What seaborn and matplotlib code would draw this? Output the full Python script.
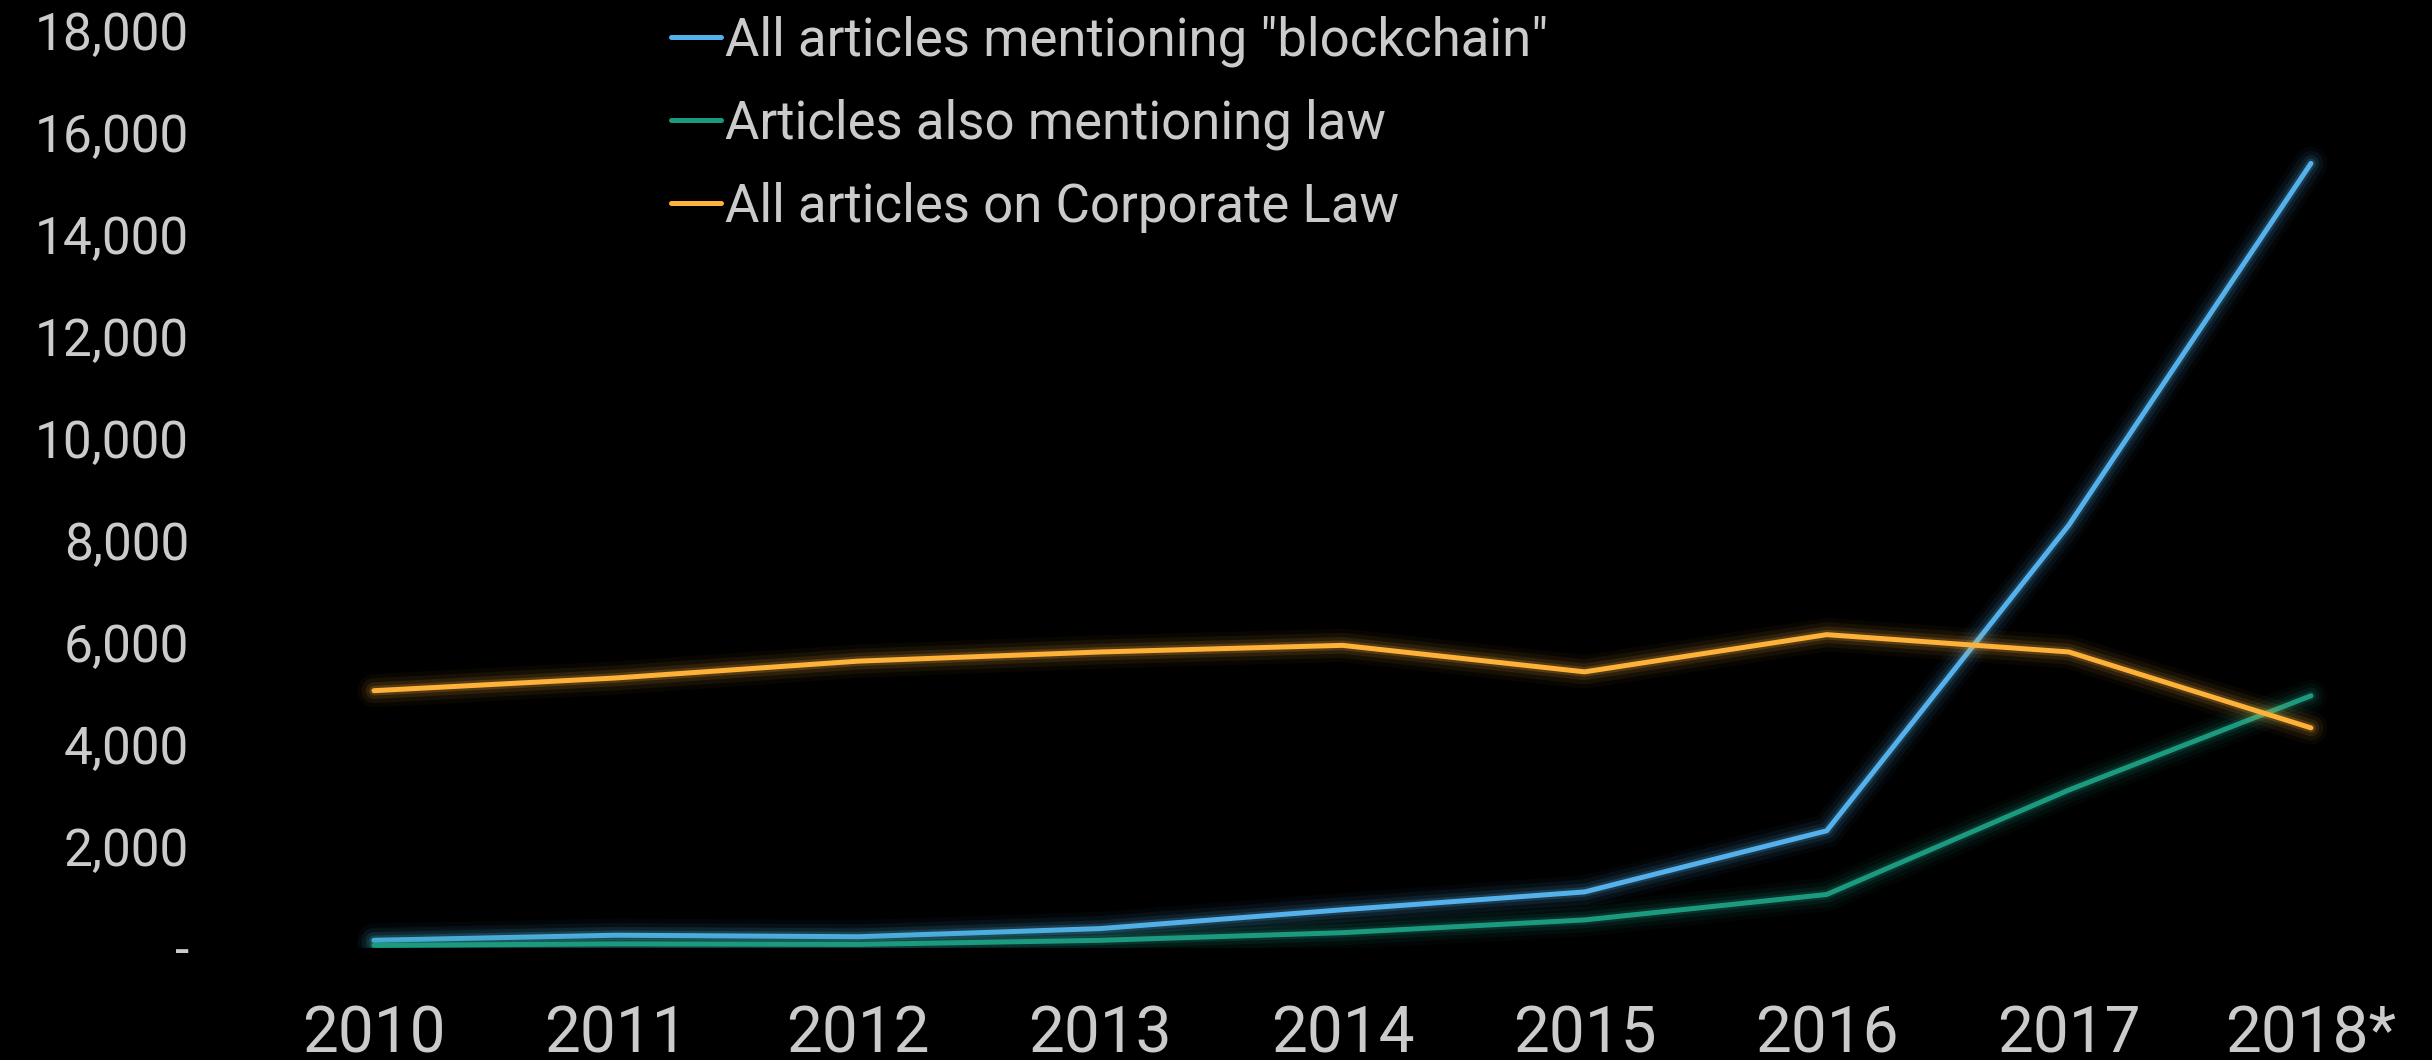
import matplotlib
matplotlib.use("Agg")
import matplotlib.pyplot as plt
import matplotlib.patheffects as pe
import seaborn as sns
import pandas as pd

years = ["2010", "2011", "2012", "2013", "2014", "2015", "2016", "2017", "2018*"]
blockchain_all = [150, 250, 220, 380, 750, 1100, 2300, 8300, 15400]
blockchain_law = [50, 80, 70, 150, 300, 550, 1050, 3100, 4950]
corporate_law = [5050, 5300, 5630, 5810, 5940, 5420, 6150, 5810, 4320]

series_names = ['All articles mentioning "blockchain"',
                'Articles also mentioning law',
                'All articles on Corporate Law']
colors = ["#55b1ec", "#1c9a80", "#ffb23a"]
y_ticks = list(range(0, 18001, 2000))

df = pd.concat([
    pd.DataFrame({"year": years, "count": vals, "series": name})
    for name, vals in zip(series_names, [blockchain_all, blockchain_law, corporate_law])
], ignore_index=True)

sns.set_theme(style="dark")
plt.rcParams["font.family"] = ["Roboto", "DejaVu Sans"]
text_color = "#cbcbcb"

fig = plt.figure(figsize=(24.32, 10.6), dpi=100, facecolor="black")
ax = fig.add_axes([0.104, 0.1057, 0.896, 0.8651])
ax.set_facecolor("black")

sns.lineplot(data=df, x="year", y="count", hue="series", hue_order=series_names,
             palette=colors, linewidth=3.6, sort=False, legend=False, ax=ax)

ax.set_xlim(-0.5, len(years) - 0.5)
ax.set_ylim(0, 18000)
ax.set_yticks(y_ticks)
ax.set_yticklabels(["-" if v == 0 else f"{v:,}" for v in y_ticks])
ax.set_xticks(range(len(years)))
ax.set_xticklabels(years)
ax.tick_params(axis="y", length=0, pad=46, labelsize=37, labelcolor=text_color)
ax.tick_params(axis="x", length=0, pad=40, labelsize=46, labelcolor=text_color)
ax.set_xlabel("")
ax.set_ylabel("")
ax.grid(False)
for s in ax.spines.values():
    s.set_visible(False)

leg = ax.legend(ax.lines, series_names, loc="upper left",
                bbox_to_anchor=(0.182, 1.040), frameon=False, fontsize=38,
                handlelength=0.95, handletextpad=0.08, labelspacing=0.6,
                borderaxespad=0)
for t in leg.get_texts():
    t.set_color(text_color)
for h in leg.get_lines():
    h.set_linewidth(3.6)

for line, c in zip(ax.lines, colors):
    line.set_path_effects([
        pe.Stroke(linewidth=24, foreground=c, alpha=0.04),
        pe.Stroke(linewidth=18, foreground=c, alpha=0.06),
        pe.Stroke(linewidth=12, foreground=c, alpha=0.10),
        pe.Stroke(linewidth=7, foreground=c, alpha=0.18),
        pe.Normal(),
    ])

fig.savefig("out.png", dpi=100, facecolor="black")
